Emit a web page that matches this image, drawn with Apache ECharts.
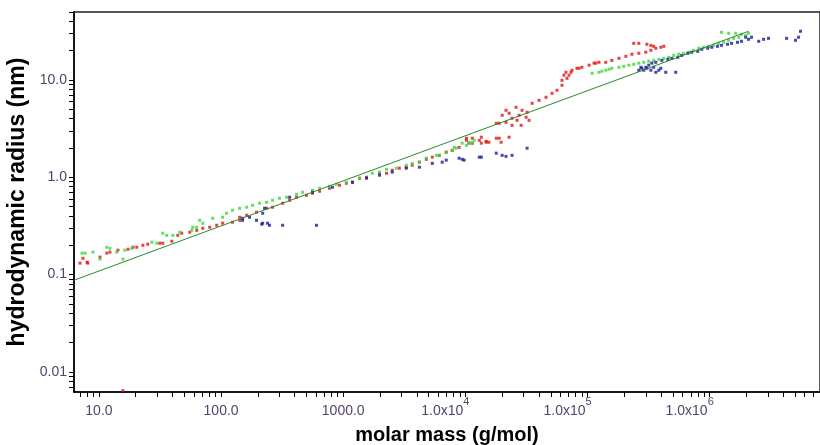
<!DOCTYPE html>
<html>
<head>
<meta charset="utf-8">
<title>hydrodynamic radius vs molar mass</title>
<script src="https://cdn.jsdelivr.net/npm/echarts@6/dist/echarts.min.js"></script>
<style>
  html, body { margin: 0; padding: 0; background: #fff; }
  #chart { width: 820px; height: 445px; }
</style>
</head>
<body>
<div id="chart"></div>
<script>
// axis ticks / labels
var xLabelValues = [10, 100, 1000, 1e4, 1e5, 1e6];
var xLabelTexts = ['10.0', '100.0', '1000.0', '1.0x10^4', '1.0x10^5', '1.0x10^6'];
var yLabelValues = [0.01, 0.1, 1, 10];
var yLabelTexts = ['0.01', '0.1', '1.0', '10.0'];
var xRange = [6.25, 8e6];
var yRange = [0.0062, 50];

// [molar mass g/mol, radius nm]
var redPoints = [
  [7.0, 0.131], [7.4, 0.147], [8.0, 0.134], [8.1, 0.131], [10.2, 0.151], [11.6, 0.166],
  [12.3, 0.170], [14.3, 0.178], [17.3, 0.182], [19.0, 0.191], [20.4, 0.191], [22.9, 0.200],
  [25.1, 0.205], [31.5, 0.210], [33.3, 0.210], [39.5, 0.220], [44.2, 0.253], [47.6, 0.266],
  [55.4, 0.272], [63.2, 0.285], [70.8, 0.299], [80.7, 0.306], [92.1, 0.321], [103, 0.337],
  [124, 0.345], [142, 0.361], [142, 0.388], [162, 0.407], [195, 0.437], [236, 0.480],
  [264, 0.492], [319, 0.541], [364, 0.580], [415, 0.623], [500, 0.653], [560, 0.685],
  [640, 0.718], [771, 0.771], [931, 0.828], [1060, 0.867], [1190, 0.889], [1360, 0.977],
  [1550, 1.0], [1980, 1.10], [2260, 1.10], [2520, 1.18], [2880, 1.24], [3280, 1.27],
  [3670, 1.33], [4200, 1.43], [4790, 1.53], [5360, 1.61], [6110, 1.68], [6970, 1.81],
  [7800, 1.89], [8890, 2.03], [10200, 2.52],
  [10200, 2.40], [10700, 2.24], [11400, 2.52], [11400, 2.24], [13000, 2.40], [14800, 2.34],
  [13500, 2.58], [13500, 2.24], [14800, 2.29], [15600, 2.29], [17900, 2.52], [18900, 2.52],
  [19600, 2.29], [22800, 2.58], [17900, 3.59], [21500, 3.67], [18900, 3.59],
  [20000, 4.34], [21500, 4.88], [22800, 4.55], [24100, 4.04], [26000, 5.24], [27500, 4.34],
  [29100, 4.88], [31400, 4.14], [33200, 3.85], [28600, 3.42], [24100, 3.42], [32000, 4.66],
  [26500, 3.85], [35200, 5.76], [40100, 6.18], [45700, 6.64], [51200, 7.30], [56200, 7.84],
  [61800, 9.93], [64100, 11.2], [66600, 12.0], [70500, 11.2], [61800, 8.82], [67900, 10.4],
  [73200, 12.0], [74600, 12.6], [81900, 13.2], [89900, 13.5], [103000, 14.2], [113000, 14.9],
  [124000, 15.2], [85100, 13.2], [117000, 14.9], [141000, 15.2], [158000, 15.9], [181000, 16.7],
  [206000, 17.5], [231000, 18.4], [263000, 18.8], [300000, 19.3], [330000, 20.2], [362000, 21.2],
  [398000, 21.7], [421000, 22.2], [239000, 23.8], [263000, 23.8], [306000, 23.3], [330000, 22.7],
  [348000, 22.2], [15.7, 0.0064]
];

var greenPoints = [
  [7.26, 0.166], [7.69, 0.166], [8.93, 0.170], [10.2, 0.144], [11.6, 0.191], [12.3, 0.186],
  [14.0, 0.170], [15.7, 0.144], [16.3, 0.178], [18.6, 0.186], [27.1, 0.215], [29.8, 0.210],
  [33.3, 0.266], [35.9, 0.253], [40.3, 0.253], [45.9, 0.272], [57.5, 0.285], [63.2, 0.306],
  [70.8, 0.337], [58.6, 0.306], [66.8, 0.361], [85.3, 0.379], [103, 0.388], [111, 0.427],
  [124, 0.458], [142, 0.480], [162, 0.492], [181, 0.515], [207, 0.541], [236, 0.553],
  [264, 0.580], [300, 0.609], [344, 0.623], [415, 0.668], [464, 0.701], [560, 0.735],
  [640, 0.771], [771, 0.809], [879, 0.848], [1060, 0.889], [1360, 0.977], [1730, 1.10],
  [1980, 1.13], [2260, 1.21], [2720, 1.24], [3280, 1.33], [3670, 1.39], [4200, 1.43],
  [4790, 1.57], [5780, 1.68], [6110, 1.68], [6970, 1.81], [7800, 1.89], [8410, 1.99],
  [10200, 2.13], [11400, 2.24], [8110, 2.03], [9420, 2.24], [10700, 2.29], [11800, 2.40],
  [109000, 11.7], [124000, 12.0], [131000, 12.3], [141000, 12.6], [150000, 12.9], [158000, 13.2],
  [181000, 13.5], [198000, 13.8], [218000, 14.2], [239000, 14.5], [263000, 14.9], [289000, 15.2],
  [317000, 15.6], [348000, 15.9], [383000, 16.3], [421000, 16.7], [462000, 17.1], [508000, 17.9],
  [557000, 18.4], [613000, 18.8], [673000, 19.3], [740000, 20.2], [813000, 21.2], [893000, 21.7],
  [982000, 22.2], [1080000, 22.7], [1180000, 23.8], [1300000, 24.4], [1430000, 25.6], [1570000, 26.8],
  [1730000, 27.5], [1970000, 28.8],
  [1250000, 30.9], [1430000, 30.2], [1630000, 30.2], [1820000, 29.5], [2080000, 30.2]
];

var bluePoints = [
  [150, 0.361], [219, 0.337], [249, 0.321], [319, 0.321], [150, 0.379], [171, 0.388],
  [195, 0.361], [215, 0.329], [240, 0.337], [219, 0.427], [227, 0.480], [604, 0.321],
  [364, 0.623], [560, 0.701], [816, 0.789], [1190, 0.889], [1550, 0.977], [1980, 1.05],
  [2520, 1.13], [3280, 1.24], [4200, 1.27], [5360, 1.39], [6970, 1.50], [8890, 1.57],
  [9420, 1.53], [13000, 1.61], [17900, 1.77], [21500, 1.64], [24100, 1.68], [9770, 1.50],
  [13500, 1.61], [20000, 1.68], [32000, 1.99], [6460, 1.43],
  [263000, 12.6], [273000, 13.5], [278000, 13.2], [289000, 12.6], [300000, 13.5], [306000, 13.2],
  [317000, 14.2], [330000, 12.6], [336000, 14.9], [348000, 13.5], [362000, 15.2], [362000, 12.0],
  [383000, 12.6], [398000, 13.2], [437000, 12.0], [527000, 12.0], [406000, 15.9], [454000, 16.3],
  [490000, 16.7], [548000, 17.1], [590000, 17.9], [661000, 18.8], [713000, 19.3], [798000, 19.7],
  [861000, 20.7], [964000, 21.2], [1040000, 21.7], [1160000, 22.2], [1250000, 22.7], [1400000, 23.3],
  [1510000, 23.8], [1690000, 24.4], [1820000, 25.0], [1970000, 27.5], [2080000, 26.2], [2200000, 27.5],
  [2520000, 25.0], [2760000, 26.2], [3030000, 26.8],
  [4260000, 26.8], [5040000, 25.6], [5340000, 27.5], [5540000, 31.7]
];

// fitted power law, end points
var fitLine = [[6.25, 0.0874], [2.08e6, 31.7]];

var labelColor = '#54446a';
var sans = "'Liberation Sans', Arial, sans-serif";

function minorTicks(range) {
  var out = [];
  for (var k = -3; k <= 7; k++) {
    for (var d = 1; d <= 9; d++) {
      var v = d * Math.pow(10, k);
      if (v >= range[0] * 0.999 && v <= range[1] * 1.001) out.push(v);
    }
  }
  return out;
}

function pickLabel(v, values, texts) {
  for (var i = 0; i < values.length; i++) {
    if (Math.abs(Math.log10(v / values[i])) < 0.01) return texts[i];
  }
  return '';
}

var chart = echarts.init(document.getElementById('chart'));
var option = {
  backgroundColor: '#fff',
  animation: false,
  grid: {
    left: 74, top: 12, right: 0, bottom: 53,
    outerBoundsMode: 'none',
    containLabel: false,
    show: true, borderColor: '#222', borderWidth: 1.5
  },
  xAxis: {
    type: 'log',
    min: xRange[0], max: xRange[1],
    name: 'molar mass (g/mol)',
    nameLocation: 'middle',
    nameGap: 33,
    nameTextStyle: { fontFamily: sans, fontWeight: 'bold', fontSize: 20, color: '#000' },
    axisLine: { lineStyle: { color: '#000', width: 1.5 } },
    axisTick: { customValues: minorTicks(xRange), length: 5, lineStyle: { color: '#000' } },
    splitLine: { show: false },
    axisLabel: {
      customValues: xLabelValues,
      margin: 2,
      formatter: function (v) {
        var t = pickLabel(v, xLabelValues, xLabelTexts);
        var p = t.split('^');
        if (p.length > 1) return '{b|' + p[0] + '}{sup|' + p[1] + '}{pad| }';
        return '{b|' + t + '}';
      },
      rich: {
        // symmetric padding keeps the digits centred; the exponent is lifted by its bottom padding
        b: { fontFamily: sans, fontSize: 14, height: 14, padding: [10, 0, 10, 0], color: labelColor },
        sup: { fontFamily: sans, fontSize: 11, height: 11, padding: [0, 0, 19, 0], color: labelColor },
        pad: { width: 40 }
      }
    }
  },
  yAxis: {
    type: 'log',
    min: yRange[0], max: yRange[1],
    name: 'hydrodynamic radius (nm)',
    nameLocation: 'middle',
    nameGap: 36,
    nameTextStyle: { fontFamily: sans, fontWeight: 'bold', fontSize: 23, color: '#000' },
    axisLine: { lineStyle: { color: '#000', width: 1.5 } },
    axisTick: { customValues: minorTicks(yRange), length: 5, lineStyle: { color: '#000' } },
    splitLine: { show: false },
    axisLabel: {
      customValues: yLabelValues,
      margin: 7,
      fontFamily: sans, fontSize: 14, color: labelColor,
      formatter: function (v) { return pickLabel(v, yLabelValues, yLabelTexts); }
    }
  },
  series: [
    { name: 'red', type: 'scatter', symbol: 'rect', symbolSize: 3, itemStyle: { color: '#e01414' }, data: redPoints },
    { name: 'green', type: 'scatter', symbol: 'rect', symbolSize: 3, itemStyle: { color: '#3cd83c' }, data: greenPoints },
    { name: 'blue', type: 'scatter', symbol: 'rect', symbolSize: 3, itemStyle: { color: '#1c1c96' }, data: bluePoints },
    { name: 'fit', type: 'line', symbol: 'none', lineStyle: { color: '#2a8a2a', width: 1 }, data: fitLine }
  ]
};
chart.setOption(option);
</script>
</body>
</html>
